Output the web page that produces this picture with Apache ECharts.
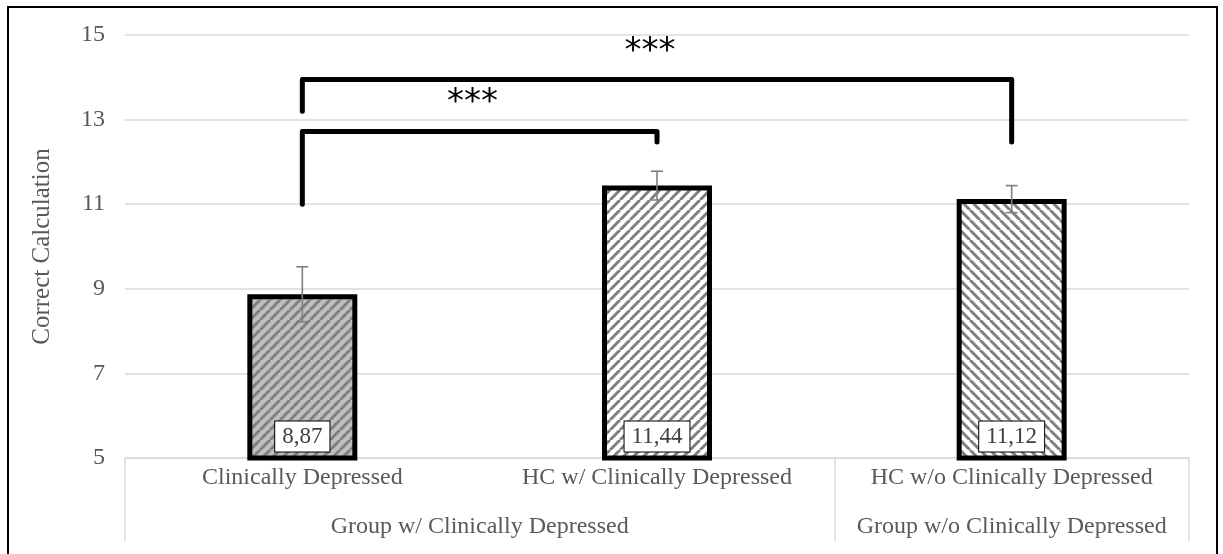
<!DOCTYPE html>
<html>
<head>
<meta charset="utf-8">
<script src="https://cdn.jsdelivr.net/npm/echarts@6/dist/echarts.min.js"></script>
<style>
  html, body { margin: 0; padding: 0; background: #fff; }
  #chart { width: 1223px; height: 554px; }
</style>
</head>
<body>
<div id="chart"></div>
<script>
// Group means and their error margins
const categories = ['Clinically Depressed', 'HC w/ Clinically Depressed', 'HC w/o Clinically Depressed'];
const means = [8.87, 11.44, 11.12];
const errors = [0.65, 0.34, 0.32];

// Higher-level grouping under the category axis (positions in category units)
const groupLabels = ['Group w/ Clinically Depressed', 'Group w/o Clinically Depressed'];
const groupCenters = [1, 2.5];
const groupBounds = [0, 2, 3];

// Y axis ticks
const yMin = 5, yMax = 15, yStep = 2;

// Significance brackets
const bracketFrom = [0, 0];
const bracketTo = [1, 2];
const bracketTop = [12.72, 13.95];
const bracketLeftEnd = [11.0, 13.2];
const bracketRightEnd = [12.47, 12.47];
const bracketText = ['***', '***'];
const bracketTextY = [13.38, 14.6];
const bracketTextFrac = [0.48, 0.49];

const SERIF = '"Liberation Serif", "Times New Roman", serif';
const TEXT = '#595959';
const GRID = '#d9d9d9';

// Hatched fills
function hatch(bg, dir) {
  const c = document.createElement('canvas');
  c.width = c.height = 10;
  const g = c.getContext('2d');
  g.fillStyle = bg;
  g.fillRect(0, 0, 10, 10);
  g.strokeStyle = '#808080';
  g.lineWidth = 3;
  g.beginPath();
  for (const k of [-10, 0, 10]) {
    if (dir === '/') { g.moveTo(k, 10); g.lineTo(k + 10, 0); }
    else { g.moveTo(k, 0); g.lineTo(k + 10, 10); }
  }
  g.stroke();
  return { image: c, repeat: 'repeat' };
}
const fills = [hatch('#bfbfbf', '/'), hatch('#ffffff', '/'), hatch('#ffffff', '\\')];

const chart = echarts.init(document.getElementById('chart'), null, { renderer: 'canvas' });

const option = {
  animation: false,
  backgroundColor: '#fff',
  graphic: [{
    type: 'rect',
    shape: { x: 8, y: 7, width: 1209, height: 560 },
    style: { fill: 'none', stroke: '#000', lineWidth: 2 },
    silent: true
  }],
  grid: { left: 125, right: 34, top: 35, bottom: 96, containLabel: false },
  xAxis: [{
    type: 'category',
    data: categories,
    axisLine: { lineStyle: { color: GRID, width: 1.5 } },
    axisTick: { show: false },
    axisLabel: { interval: 0, hideOverlap: false, color: TEXT, fontFamily: SERIF, fontSize: 24, margin: 8 }
  }, {
    type: 'value',
    min: 0, max: 3,
    position: 'bottom',
    axisLine: { show: false },
    splitLine: { show: false },
    axisTick: { show: true, customValues: groupBounds, length: 83, lineStyle: { color: GRID, width: 1.5 } },
    axisLabel: {
      customValues: groupCenters,
      hideOverlap: false,
      color: TEXT, fontFamily: SERIF, fontSize: 24, margin: 57,
      formatter: v => groupLabels[groupCenters.indexOf(v)] || ''
    }
  }],
  yAxis: {
    type: 'value',
    min: yMin, max: yMax, interval: yStep,
    name: 'Correct Calculation',
    nameLocation: 'middle',
    nameGap: 70,
    nameTextStyle: { color: TEXT, fontFamily: SERIF, fontSize: 25 },
    axisLine: { show: false },
    axisTick: { show: false },
    splitLine: { lineStyle: { color: GRID, width: 1.5 } },
    axisLabel: { color: TEXT, fontFamily: SERIF, fontSize: 24, margin: 20 }
  },
  series: [{
    type: 'bar',
    xAxisIndex: 0,
    barWidth: 110,
    data: means.map((v, i) => ({ value: v, itemStyle: { color: fills[i] } })),
    itemStyle: { borderColor: '#000', borderWidth: 5 },
    label: {
      show: true,
      position: 'insideBottom',
      distance: 9,
      formatter: p => p.value.toFixed(2).replace('.', ','),
      fontFamily: SERIF, fontSize: 23, color: '#404040',
      backgroundColor: '#fff', borderColor: '#000', borderWidth: 1,
      padding: [4, 7, 3, 7]
    },
    z: 2
  }, {
    // error bars
    type: 'custom',
    xAxisIndex: 0,
    data: means.map((m, i) => [i, m - errors[i], m + errors[i]]),
    renderItem: (params, api) => {
      const lo = api.coord([api.value(0), api.value(1)]);
      const hi = api.coord([api.value(0), api.value(2)]);
      const w = 6;
      const st = { stroke: '#7f7f7f', lineWidth: 1.6 };
      return {
        type: 'group',
        children: [
          { type: 'line', shape: { x1: lo[0], y1: lo[1], x2: hi[0], y2: hi[1] }, style: st },
          { type: 'line', shape: { x1: lo[0] - w, y1: lo[1], x2: lo[0] + w, y2: lo[1] }, style: st },
          { type: 'line', shape: { x1: hi[0] - w, y1: hi[1], x2: hi[0] + w, y2: hi[1] }, style: st }
        ]
      };
    },
    z: 3
  }, {
    // significance brackets
    type: 'custom',
    xAxisIndex: 0,
    data: bracketFrom.map((f, i) => [f, bracketTo[i], bracketTop[i], bracketLeftEnd[i], bracketRightEnd[i], bracketTextY[i]]),
    renderItem: (params, api) => {
      const i = params.dataIndex;
      const a = api.coord([api.value(0), api.value(3)]);
      const b = api.coord([api.value(0), api.value(2)]);
      const c = api.coord([api.value(1), api.value(2)]);
      const d = api.coord([api.value(1), api.value(4)]);
      const t = api.coord([api.value(0), api.value(5)]);
      const tx = b[0] + (c[0] - b[0]) * bracketTextFrac[i];
      return {
        type: 'group',
        children: [{
          type: 'polyline',
          shape: { points: [a, b, c, d] },
          style: { stroke: '#000', lineWidth: 5, lineCap: 'round', lineJoin: 'round', fill: 'none' }
        }, {
          type: 'text',
          x: tx, y: t[1],
          style: {
            text: bracketText[i],
            fontFamily: '"DejaVu Sans", sans-serif',
            fontSize: 34,
            fill: '#000',
            align: 'center',
            verticalAlign: 'middle'
          }
        }]
      };
    },
    z: 4
  }]
};

chart.setOption(option);
</script>
</body>
</html>
